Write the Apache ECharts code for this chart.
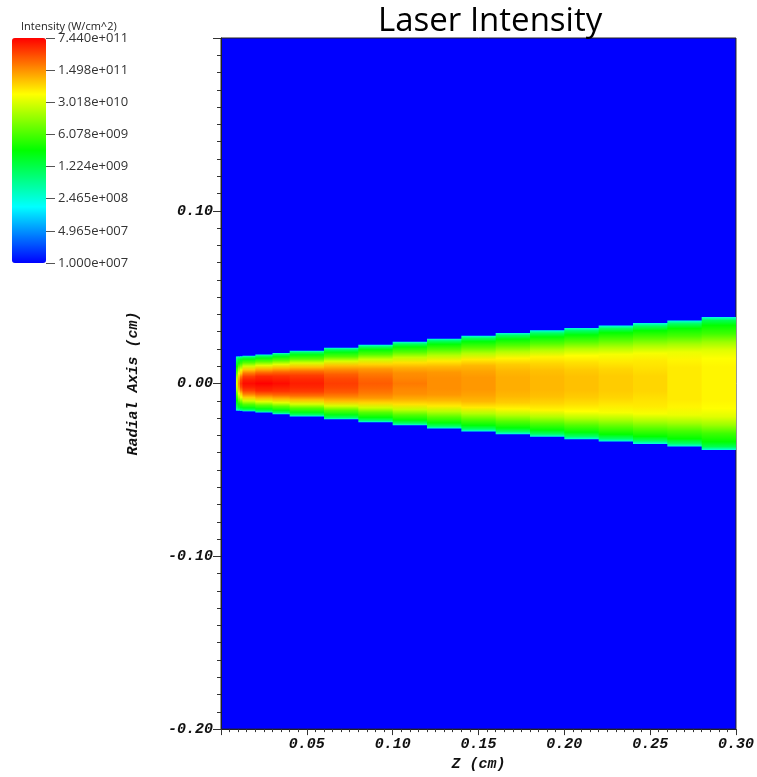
<!DOCTYPE html>
<html>
<head>
<meta charset="utf-8">
<title>Laser Intensity</title>
<script src="https://cdn.jsdelivr.net/npm/echarts@6/dist/echarts.min.js"></script>
<style>html,body{margin:0;padding:0;background:#fff;}</style>
</head>
<body>
<div id="main" style="width:757px;height:777px;"></div>
<script>
// column edges along Z (cm), one column between two edges
var zEdges = [0.0087, 0.0098, 0.0110, 0.0125, 0.02, 0.03, 0.04, 0.06, 0.08, 0.10,
              0.12, 0.14, 0.16, 0.18, 0.20, 0.22, 0.24, 0.26, 0.28, 0.30];
// beam half width (cm) read in the middle of each column
var halfWidth = [0.0157, 0.0157, 0.0158, 0.0161, 0.0168, 0.0177, 0.0190, 0.0207, 0.0224, 0.0242,
                 0.0260, 0.0277, 0.0293, 0.0308, 0.0322, 0.0336, 0.0350, 0.0365, 0.0385];
// radial positions, as a fraction of the half width
var ringPos = [0, 0.125, 0.25, 0.375, 0.5, 0.625, 0.75, 0.875, 0.95, 1];
// intensity (W/cm^2) at each radial position, per column
var ringAxis = [3.2e10, 1.55e11, 4.3e11, 6.6e11, 7.4e11, 6.6e11, 5.4e11, 3.8e11, 2.7e11, 1.95e11,
                1.55e11, 1.4e11, 1.1e11, 9.8e10, 8.9e10, 7.9e10, 7.1e10, 5.6e10, 5.0e10];
var ring125 = [2.6e10, 1.23e11, 3.4e11, 5.4e11, 5.9e11, 5.4e11, 4.8e11, 3.4e11, 2.4e11, 1.7e11,
               1.55e11, 1.4e11, 1.1e11, 9.8e10, 8.9e10, 7.9e10, 7.1e10, 5.6e10, 5.0e10];
var ring250 = [1.66e10, 7.9e10, 1.95e11, 3.8e11, 4.8e11, 4.3e11, 3.8e11, 2.7e11, 1.95e11, 1.55e11,
               1.4e11, 1.23e11, 9.8e10, 8.9e10, 7.9e10, 7.1e10, 6.3e10, 5.6e10, 5.0e10];
var ring375 = [8.3e9, 4.1e10, 7.9e10, 1.95e11, 2.4e11, 2.4e11, 2.2e11, 1.7e11, 1.4e11, 1.1e11,
               9.8e10, 9.8e10, 7.9e10, 7.1e10, 6.3e10, 5.6e10, 5.6e10, 5.0e10, 4.5e10];
var ring500 = [4.8e9, 2.0e10, 3.6e10, 7.9e10, 9.8e10, 9.8e10, 8.9e10, 8.9e10, 7.1e10, 6.3e10,
               5.6e10, 5.6e10, 5.0e10, 5.0e10, 4.5e10, 4.1e10, 4.1e10, 3.6e10, 3.2e10];
var ring625 = [2.8e9, 8.3e9, 1.3e10, 2.6e10, 3.2e10, 3.2e10, 2.9e10, 2.9e10, 2.6e10, 2.3e10,
               2.0e10, 2.0e10, 2.0e10, 2.0e10, 2.0e10, 1.8e10, 1.8e10, 1.66e10, 1.5e10];
var ring750 = [1.55e9, 3.4e9, 4.8e9, 6.8e9, 7.5e9, 7.5e9, 6.8e9, 6.8e9, 6.8e9, 6.8e9,
               6.8e9, 6.8e9, 6.8e9, 6.8e9, 6.8e9, 6.8e9, 6.8e9, 6.0e9, 5.4e9];
var ring875 = [8.9e8, 1.55e9, 1.95e9, 2.2e9, 2.2e9, 2.2e9, 2.2e9, 2.2e9, 2.5e9, 2.5e9,
               2.5e9, 2.5e9, 2.5e9, 2.5e9, 2.5e9, 2.8e9, 2.8e9, 2.8e9, 2.8e9];
var ring950 = [5.1e8, 7.1e8, 8.9e8, 8.9e8, 8.9e8, 8.9e8, 8.9e8, 8.9e8, 8.9e8, 8.9e8,
               8.9e8, 8.9e8, 8.9e8, 8.9e8, 8.9e8, 8.9e8, 8.9e8, 8.9e8, 1.1e9];
var ringEdge = [2.1e8, 2.1e8, 2.1e8, 2.1e8, 2.1e8, 2.1e8, 2.1e8, 2.1e8, 2.1e8, 2.1e8,
                2.1e8, 2.1e8, 2.1e8, 2.1e8, 2.1e8, 2.1e8, 2.1e8, 2.1e8, 2.1e8];

// colour bar
var barLabels = ['1.000e+007', '4.965e+007', '2.465e+008', '1.224e+009',
                 '6.078e+009', '3.018e+010', '1.498e+011', '7.440e+011'];
var intMin = 1.0e7, intMax = 7.44e11;
var palette = ['#0000ff', '#00ffff', '#00ff00', '#ffff00', '#ff0000'];

var logMin = Math.log10(intMin), logMax = Math.log10(intMax);
var rings = [ringAxis, ring125, ring250, ring375, ring500, ring625, ring750, ring875, ring950, ringEdge];

var rows = [];
for (var i = 0; i < halfWidth.length; i++) {
    var row = [zEdges[i], zEdges[i + 1], halfWidth[i]];
    rings.forEach(function (r) { row.push(Math.log10(r[i])); });
    rows.push(row);
}

function colorOf(logI) {
    var t = (logI - logMin) / (logMax - logMin);
    t = Math.max(0, Math.min(1, t));
    return echarts.color.lerp(t, palette);
}

var monoFont = {
    fontFamily: 'Liberation Mono',
    fontWeight: 'bold',
    fontStyle: 'italic',
    fontSize: 15,
    color: '#111'
};

var myChart = echarts.init(document.getElementById('main'));

var option = {
    animation: false,
    title: [{
        text: 'Laser Intensity',
        left: 373,
        top: 0,
        textStyle: { fontFamily: 'Open Sans', fontWeight: 'normal', fontSize: 33, color: '#000' }
    }, {
        text: 'Intensity (W/cm^2)',
        left: 16,
        top: 16,
        textStyle: { fontFamily: 'Open Sans', fontWeight: 'normal', fontSize: 11, color: '#222' }
    }],
    visualMap: {
        type: 'continuous',
        min: logMin,
        max: logMax,
        seriesIndex: 0,
        dimension: 3,
        left: 12,
        top: 38,
        padding: 0,
        itemWidth: 34,
        itemHeight: 225,
        calculable: false,
        hoverLink: false,
        indicatorSize: 0,
        handleSize: 0,
        text: null,
        inRange: { color: palette }
    },
    grid: [{
        left: 221, top: 38, width: 518, height: 692,
        show: true,
        backgroundColor: palette[0],
        borderColor: '#222',
        borderWidth: 1
    }, {
        left: 12, top: 38, width: 34, height: 225,
        show: false
    }],
    xAxis: [{
        type: 'value',
        gridIndex: 0,
        z: 10,
        min: 0, max: 0.30, interval: 0.05,
        name: 'Z (cm)',
        nameLocation: 'middle',
        nameGap: 26,
        nameTextStyle: monoFont,
        axisLine: { show: true, onZero: false, lineStyle: { color: '#222' } },
        axisTick: { show: true, length: 6, lineStyle: { color: '#333' } },
        minorTick: { show: true, splitNumber: 10, length: 3, lineStyle: { color: '#333' } },
        splitLine: { show: false },
        axisLabel: {
            showMinLabel: false,
            margin: 8,
            formatter: function (v) { return v.toFixed(2); },
            fontFamily: monoFont.fontFamily, fontWeight: 'bold', fontStyle: 'italic', fontSize: 15, color: '#111'
        }
    }, {
        type: 'value', gridIndex: 1, min: 0, max: 1, show: false
    }],
    yAxis: [{
        type: 'value',
        gridIndex: 0,
        z: 10,
        min: -0.20, max: 0.20, interval: 0.10,
        name: 'Radial Axis (cm)',
        nameLocation: 'middle',
        nameRotate: 90,
        nameGap: 80,
        nameTextStyle: monoFont,
        axisLine: { show: true, onZero: false, lineStyle: { color: '#222' } },
        axisTick: { show: true, length: 8, lineStyle: { color: '#333' } },
        minorTick: { show: true, splitNumber: 10, length: 4, lineStyle: { color: '#333' } },
        splitLine: { show: false },
        axisLabel: {
            showMaxLabel: false,
            margin: 8,
            formatter: function (v) { return v.toFixed(2); },
            fontFamily: monoFont.fontFamily, fontWeight: 'bold', fontStyle: 'italic', fontSize: 15, color: '#111'
        }
    }, {
        type: 'value',
        gridIndex: 1,
        position: 'right',
        z: 20,
        min: 0, max: barLabels.length - 1, interval: 1,
        axisLine: { show: true, onZero: false, lineStyle: { color: 'rgba(0,0,0,0)' } },
        axisTick: { show: true, inside: false, length: 9, lineStyle: { color: '#555', width: 1 } },
        splitLine: { show: false },
        axisLabel: {
            margin: 12,
            formatter: function (v) { return barLabels[v]; },
            fontFamily: 'Open Sans', fontSize: 13, color: '#333'
        }
    }],
    series: [{
        type: 'custom',
        xAxisIndex: 0,
        yAxisIndex: 0,
        clip: true,
        data: rows,
        encode: { x: [0, 1], y: 2 },
        renderItem: function (params, api) {
            var hw = api.value(2);
            var p0 = api.coord([api.value(0), hw]);
            var p1 = api.coord([api.value(1), -hw]);
            var stops = [];
            ringPos.forEach(function (f, k) {
                var c = colorOf(api.value(3 + k));
                stops.push({ offset: 0.5 - f / 2, color: c });
                stops.push({ offset: 0.5 + f / 2, color: c });
            });
            stops.sort(function (a, b) { return a.offset - b.offset; });
            return {
                type: 'rect',
                shape: { x: p0[0], y: p0[1], width: p1[0] - p0[0] + 0.7, height: p1[1] - p0[1] },
                style: { fill: new echarts.graphic.LinearGradient(0, 0, 0, 1, stops) }
            };
        }
    }]
};

myChart.setOption(option);
</script>
</body>
</html>
